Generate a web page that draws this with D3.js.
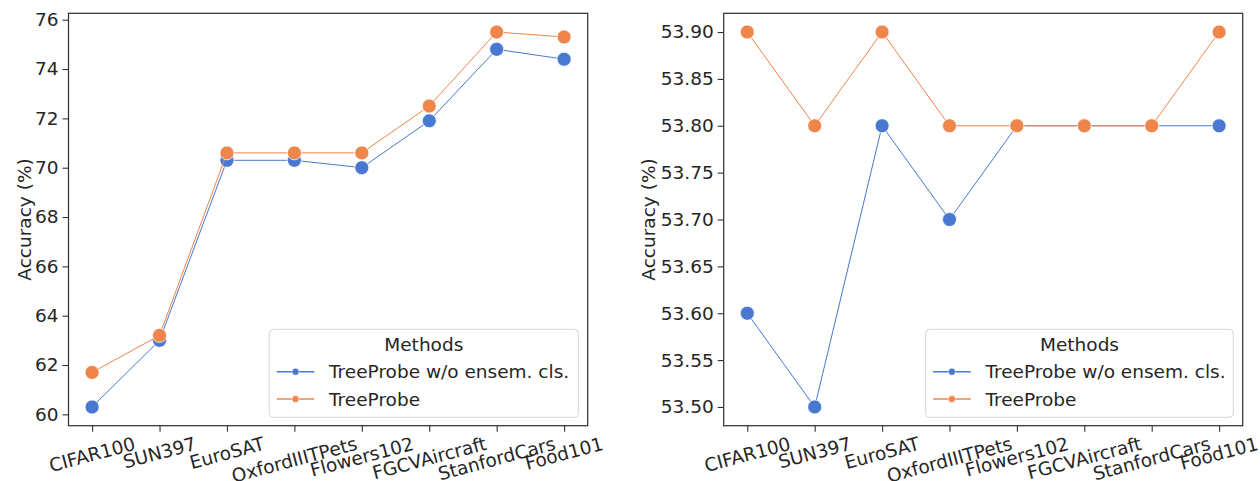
<!DOCTYPE html>
<html>
<head>
<meta charset="utf-8">
<script src="https://cdn.jsdelivr.net/npm/d3@7"></script>
<style>
  body { margin: 0; background: #fff; }
  svg { display: block; font-family: "DejaVu Sans", sans-serif; }
</style>
</head>
<body>
<svg id="chart" width="1260" height="481"></svg>
<script>
const categories = ["CIFAR100","SUN397","EuroSAT","OxfordIIITPets","Flowers102","FGCVAircraft","StanfordCars","Food101"];
const seriesNames = ["TreeProbe w/o ensem. cls.", "TreeProbe"];
const leftNoEnsemble = [60.3, 63.0, 70.3, 70.3, 70.0, 71.9, 74.8, 74.4];
const leftTreeProbe  = [61.7, 63.2, 70.6, 70.6, 70.6, 72.5, 75.5, 75.3];
const rightNoEnsemble = [53.6, 53.5, 53.8, 53.7, 53.8, 53.8, 53.8, 53.8];
const rightTreeProbe  = [53.9, 53.8, 53.9, 53.8, 53.8, 53.8, 53.8, 53.9];
const leftTicks = [60, 62, 64, 66, 68, 70, 72, 74, 76];
const rightTicks = [53.50, 53.55, 53.60, 53.65, 53.70, 53.75, 53.80, 53.85, 53.90];
const colors = ["#4878d0", "#ee854a"];

const svg = d3.select("#chart");
const textColor = "#262626";
const FS = 18.5;

const panels = [
  { x0: 68.5, x1: 587.7, y0: 13.3, y1: 425.7, domain: [59.54, 76.26], ticks: leftTicks, fmt: d3.format("d"),
    series: [leftNoEnsemble, leftTreeProbe], ylabelX: 24, legend: { x: 269.3, y: 329.3, w: 309, h: 88 } },
  { x0: 723.7, x1: 1242.7, y0: 13.3, y1: 425.7, domain: [53.48, 53.92], ticks: rightTicks, fmt: d3.format(".2f"),
    series: [rightNoEnsemble, rightTreeProbe], ylabelX: 648, legend: { x: 925.7, y: 329.3, w: 307.6, h: 88 } }
];

panels.forEach(p => {
  const g = svg.append("g");
  const x = d3.scalePoint().domain(categories).range([p.x0, p.x1]).padding(0.35);
  const y = d3.scaleLinear().domain(p.domain).range([p.y1, p.y0]);

  // y axis
  const yAxis = d3.axisLeft(y).tickValues(p.ticks).tickFormat(p.fmt).tickSize(6).tickPadding(4);
  const ya = g.append("g").attr("transform", `translate(${p.x0},0)`).call(yAxis);
  ya.select(".domain").remove();
  ya.selectAll(".tick line").attr("stroke", "#333").attr("stroke-width", 1.1);
  ya.selectAll(".tick text").attr("fill", textColor).style("font-size", FS + "px").style("font-family", "DejaVu Sans");

  // x axis
  const xAxis = d3.axisBottom(x).tickSize(6).tickFormat("");
  const xa = g.append("g").attr("transform", `translate(0,${p.y1})`).call(xAxis);
  xa.select(".domain").remove();
  xa.selectAll(".tick line").attr("stroke", "#333").attr("stroke-width", 1.1);

  // rotated x labels
  const ang = 15 * Math.PI / 180;
  const top = p.y1 + 7;
  categories.forEach(c => {
    const t = g.append("text")
      .attr("fill", textColor)
      .style("font-size", FS + "px")
      .attr("text-anchor", "middle")
      .attr("dominant-baseline", "central")
      .text(c);
    const w = t.node().getComputedTextLength();
    const fh = FS * 1.16;
    const H = w * Math.sin(ang) + fh * Math.cos(ang);
    t.attr("transform", `translate(${x(c)},${top + H / 2}) rotate(-15)`);
  });

  // frame
  g.append("rect")
    .attr("x", p.x0).attr("y", p.y0)
    .attr("width", p.x1 - p.x0).attr("height", p.y1 - p.y0)
    .attr("fill", "none").attr("stroke", "#333").attr("stroke-width", 1.25);

  // y label
  g.append("text")
    .attr("transform", `translate(${p.ylabelX},${(p.y0 + p.y1) / 2}) rotate(-90)`)
    .attr("text-anchor", "middle")
    .attr("dominant-baseline", "central")
    .attr("fill", textColor)
    .style("font-size", FS + "px")
    .text("Accuracy (%)");

  // series
  const line = d3.line().x((d, i) => x(categories[i])).y(d => y(d));
  p.series.forEach((s, si) => {
    g.append("path").datum(s)
      .attr("d", line)
      .attr("fill", "none")
      .attr("stroke", colors[si])
      .attr("stroke-width", 1);
    g.selectAll(null).data(s).enter().append("circle")
      .attr("cx", (d, i) => x(categories[i]))
      .attr("cy", d => y(d))
      .attr("r", 7)
      .attr("fill", colors[si])
      .attr("stroke", "#fff")
      .attr("stroke-width", 0.75);
  });

  // legend
  const L = p.legend;
  const lg = g.append("g");
  lg.append("rect")
    .attr("x", L.x).attr("y", L.y).attr("width", L.w).attr("height", L.h)
    .attr("rx", 4).attr("fill", "#fff").attr("fill-opacity", 0.8)
    .attr("stroke", "#d6d6d6").attr("stroke-width", 1);
  lg.append("text")
    .attr("x", L.x + L.w / 2).attr("y", L.y + 15)
    .attr("text-anchor", "middle").attr("dominant-baseline", "central")
    .attr("fill", textColor).style("font-size", FS + "px")
    .text("Methods");
  seriesNames.forEach((n, i) => {
    const cy = L.y + 42.4 + i * 27.3;
    lg.append("line")
      .attr("x1", L.x + 7.4).attr("x2", L.x + 45)
      .attr("y1", cy).attr("y2", cy)
      .attr("stroke", colors[i]).attr("stroke-width", 1.5);
    lg.append("circle")
      .attr("cx", L.x + 26.2).attr("cy", cy).attr("r", 3.5)
      .attr("fill", colors[i]).attr("stroke", "#fff").attr("stroke-width", 0.5);
    lg.append("text")
      .attr("x", L.x + 59.7).attr("y", cy)
      .attr("dominant-baseline", "central")
      .attr("fill", textColor).style("font-size", FS + "px")
      .text(n);
  });
});
</script>
</body>
</html>
